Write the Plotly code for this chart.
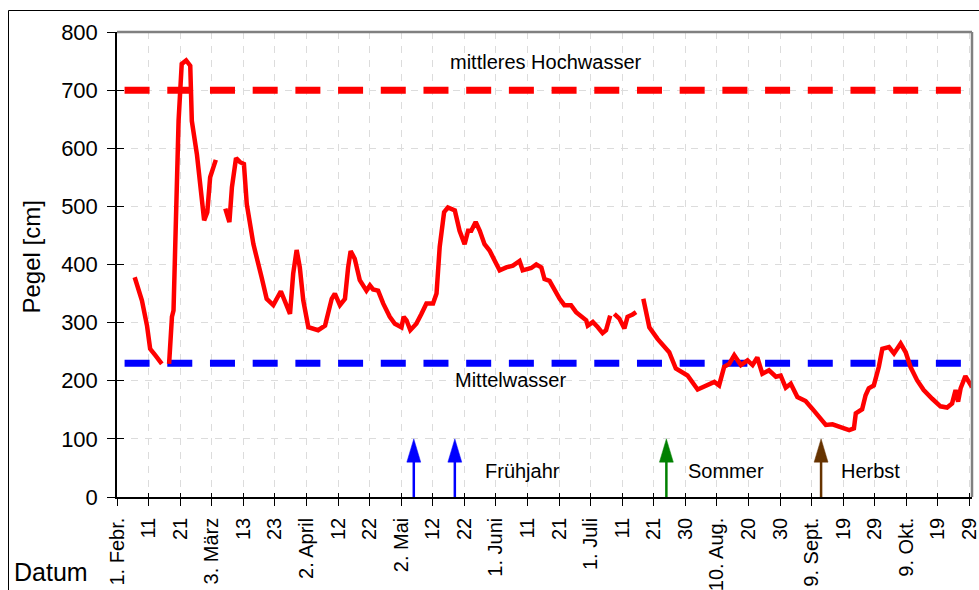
import plotly.graph_objects as go

# --- x axis: days counted from 1 February, labelled every 10 days ---
tick_days = list(range(0, 271, 10))
tick_labels = ["1. Febr.", "11", "21", "3. März", "13", "23", "2. April", "12", "22",
               "2. Mai", "12", "22", "1. Juni", "11", "21", "1. Juli", "11", "21", "30",
               "10. Aug.", "20", "30", "9. Sept.", "19", "29", "9. Okt.", "19", "29"]

# --- gauge readings (day, level in cm); None marks gaps in the record ---
pegel_day = [
    5.6, 7.9, 9.5, 10.5, 12.1, 14.2, None,
    16.5, 17.4, 17.9, 18.7, 19.5, 20.5, 21.9, 23.2, 23.7, 25.3, 26.3, 27.6, 28.6, 29.5, 31.3, None,
    34.3, 35.6, 36.4, 37.7, 39.0, 40.2, 41.1, 43.2, 45.8, 47.4, 49.5, 51.9, 54.8, 55.8, 56.9,
    57.9, 59.0, 60.6, 63.7, 65.9, 68.0, 69.0, 70.6, 72.2, 73.2, 74.0, 75.3, 76.9, 79.0, 80.1,
    81.1, 82.7, 84.3, 86.4, 88.0, 90.1, 90.8, 91.7, 92.9, 94.8, 96.4, 98.0, 100.1, 101.2,
    102.2, 103.6, 104.8, 107.0, 108.5, 110.1, 111.2, 112.2, 113.6, 114.9, 116.4, 118.0,
    119.6, 121.2, 123.3, 125.4, 127.5, 128.5, 131.2, 132.8, 134.4, 135.4, 137.0, 138.6,
    140.2, 141.7, 143.8, 145.4, 147.0, 148.6, 149.1, 150.7, 152.3, 153.8, 154.9, 156.2, None,
    157.5, 159.1, 160.7, 161.7, 163.3, 164.4, None,
    166.7, 168.6, 171.2, 174.9, 177.0, 180.7, 183.9, 186.5, 189.2, 190.7, 192.3, 193.9,
    195.5, 197.6, 199.7, 201.3, 202.8, 204.4, 206.5, 208.7, 210.2, 211.8, 213.4, 215.5,
    218.1, 220.2, 222.4, 224.5, 226.6, 228.7, 230.3, 231.9, 233.4, 234.0, 236.0, 237.1,
    238.1, 239.7, 241.3, 242.4, 244.5, 246.1, 248.2, 249.8, 251.3, 253.4, 255.5, 258.2,
    260.8, 262.9, 264.5, 265.6, 266.4, 267.2, 268.7, 270.8,
]
pegel_cm = [
    378, 338, 295, 255, 244, 229, None,
    229, 310, 321, 510, 647, 745, 751, 742, 647, 590, 533, 476, 490, 550, 580, None,
    496, 473, 533, 583, 576, 573, 504, 435, 378, 341, 330, 354, 315, 384, 425,
    395, 338, 292, 287, 295, 341, 350, 330, 341, 395, 423, 410, 373, 355, 364,
    357, 355, 333, 310, 298, 292, 310, 304, 287, 298, 315, 333, 333, 350,
    430, 490, 498, 493, 458, 435, 458, 458, 473, 458, 435, 424,
    407, 390, 395, 398, 406, 390, 394, 400, 395, 375, 372, 355,
    341, 330, 330, 318, 312, 304, 295, 301, 292, 282, 287, 312, None,
    315, 307, 290, 310, 314, 318, None,
    341, 292, 272, 249, 221, 209, 185, 191, 198, 192, 224, 229,
    244, 227, 235, 227, 240, 212, 218, 207, 209, 188, 195, 172,
    165, 152, 138, 124, 125, 122, 118, 115, 118, 144, 151, 175,
    187, 192, 224, 255, 258, 247, 264, 249, 224, 201, 184, 169,
    156, 154, 161, 184, 164, 187, 208, 189,
]

# --- reference levels ---
mhw_level = 700          # mittleres Hochwasser
mw_level = 230           # Mittelwasser
ref_span = [2.4, 272]    # day range covered by the reference lines

# --- season markers ---
season_days = [94, 107, 174, 223]
season_colors = ["#0000FF", "#0000FF", "#008000", "#663300"]
arrow_tip = 100
arrow_head_base = 60
arrow_half_width = 2.2

FONT = "Arial, Liberation Sans, sans-serif"
X_RANGE = [0, 270.8]
Y_RANGE = [0, 800]

# plot area in pixels
L, R, T, B = 117, 7, 32, 93
PW, PH = 979 - L - R, 590 - T - B

fig = go.Figure()

# reference lines
fig.add_trace(go.Scatter(x=ref_span, y=[mhw_level, mhw_level], mode="lines",
                         line=dict(color="#FF0000", width=7, dash="25px,17.7px"),
                         hoverinfo="skip", showlegend=False))
fig.add_trace(go.Scatter(x=ref_span, y=[mw_level, mw_level], mode="lines",
                         line=dict(color="#0000FF", width=7, dash="25px,17.7px"),
                         hoverinfo="skip", showlegend=False))

# gauge level
fig.add_trace(go.Scatter(x=pegel_day, y=pegel_cm, mode="lines", connectgaps=False,
                         line=dict(color="#FF0000", width=4.5),
                         showlegend=False, name="Pegel"))

# season arrows: shaft plus filled head
for d, c in zip(season_days, season_colors):
    fig.add_trace(go.Scatter(x=[d, d], y=[0, arrow_head_base + 2], mode="lines",
                             line=dict(color=c, width=2.5),
                             hoverinfo="skip", showlegend=False))
    fig.add_trace(go.Scatter(x=[d - arrow_half_width, d + arrow_half_width, d, d - arrow_half_width],
                             y=[arrow_head_base, arrow_head_base, arrow_tip, arrow_head_base],
                             mode="lines", fill="toself", fillcolor=c,
                             line=dict(color=c, width=0.5),
                             hoverinfo="skip", showlegend=False))

# helper trace for the overlaid tick axes
fig.add_trace(go.Scatter(x=[None], y=[None], xaxis="x2", yaxis="y2",
                         showlegend=False, hoverinfo="skip"))

grid = dict(showgrid=True, gridcolor="#DCDCDC", gridwidth=1, griddash="7px,7px")

fig.update_layout(
    width=979, height=590,
    margin=dict(l=L, r=R, t=T, b=B, autoexpand=False),
    paper_bgcolor="white", plot_bgcolor="white",
    font=dict(family=FONT, color="black"),
    xaxis=dict(range=X_RANGE, tickmode="array", tickvals=tick_days, ticktext=tick_labels,
               tickangle=-90, tickfont=dict(size=20), ticks="outside", ticklen=7,
               tickcolor="black", tickwidth=1, ticklabelstandoff=4, automargin=False,
               ticklabeloverflow="allow",
               showline=True, linecolor="black", linewidth=1.5, zeroline=False, **grid),
    yaxis=dict(range=Y_RANGE, tickmode="array", tickvals=list(range(0, 801, 100)),
               tickfont=dict(size=22), ticks="outside", ticklen=8, tickcolor="black",
               tickwidth=1, ticklabelstandoff=5, showline=True, linecolor="black",
               linewidth=1.5, automargin=False, zeroline=False, **grid),
    xaxis2=dict(range=X_RANGE, overlaying="x", anchor="y2", tickmode="array",
                tickvals=tick_days, ticks="inside", ticklen=4, tickcolor="black",
                showticklabels=False, showgrid=False, zeroline=False, showline=False,
                automargin=False),
    yaxis2=dict(range=Y_RANGE, overlaying="y", anchor="x2", tickmode="array",
                tickvals=list(range(0, 801, 100)), ticks="inside", ticklen=7,
                tickcolor="black", showticklabels=False, showgrid=False,
                zeroline=False, showline=False, automargin=False),
)

# plot frame (top/right) and outer chart border
fig.add_shape(type="line", xref="paper", yref="paper", x0=0, x1=1, y0=1, y1=1,
              line=dict(color="#808080", width=2.5))
fig.add_shape(type="line", xref="paper", yref="paper", x0=1, x1=1, y0=0, y1=1,
              line=dict(color="#808080", width=2.5))
fig.add_shape(type="rect", xref="paper", yref="paper",
              x0=(8.5 - L) / PW, x1=1.2, y0=-0.5, y1=(590 - B - 10.5) / PH,
              line=dict(color="black", width=1))

# text labels
labels = [
    ("mittleres Hochwasser", 136, 748),
    ("Mittelwasser", 124.5, 201),
    ("Frühjahr", 128.5, 45),
    ("Sommer", 193, 45),
    ("Herbst", 238.5, 45),
]
for txt, x, y in labels:
    fig.add_annotation(text=txt, x=x, y=y, xref="x", yref="y", showarrow=False,
                       xanchor="center", yanchor="middle",
                       font=dict(size=20, family=FONT, color="black"))

fig.add_annotation(text="Pegel [cm]", xref="paper", yref="paper",
                   x=(31 - L) / PW, y=(590 - B - 257.5) / PH, textangle=-90,
                   xanchor="center", yanchor="middle",
                   showarrow=False, font=dict(size=24, family=FONT, color="black"))
fig.add_annotation(text="Datum", xref="paper", yref="paper",
                   x=(12 - L) / PW, y=(590 - B - 572) / PH, xanchor="left",
                   yanchor="middle",
                   showarrow=False, font=dict(size=25, family=FONT, color="black"))

fig.write_html("out.html")
